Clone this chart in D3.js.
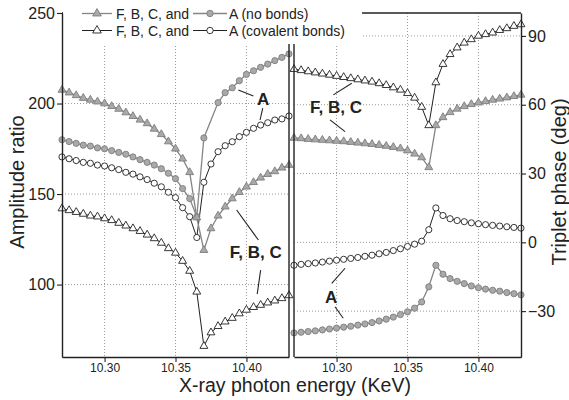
<!DOCTYPE html>
<html>
<head>
<meta charset="utf-8">
<script src="https://cdn.jsdelivr.net/npm/d3@7"></script>
<style>
body { margin: 0; background: #fff; }
svg { font-family: "Liberation Sans", Arial, sans-serif; }
</style>
</head>
<body>
<script>
// photon energies (KeV)
var energy = [10.270, 10.275, 10.280, 10.285, 10.290, 10.295, 10.300, 10.305, 10.310, 10.315,
              10.320, 10.325, 10.330, 10.335, 10.340, 10.345, 10.350, 10.355, 10.360, 10.365,
              10.370, 10.375, 10.380, 10.385, 10.390, 10.395, 10.400, 10.405, 10.410, 10.415,
              10.420, 10.425, 10.430];

// amplitude ratio (left panel)
var ampFbcNoBond = [207.5, 206, 204.5, 203, 202, 201, 200, 198.5, 197, 195,
                    193, 191, 189, 186, 183, 179, 175, 169.5, 162, 137,
                    119, 131, 138, 143, 147.5, 151, 154, 156.5, 159, 161,
                    162.5, 164.5, 166];
var ampANoBond = [180, 179, 178, 177, 176.5, 175.5, 175, 174, 173, 172,
                  170.5, 169, 167.5, 166, 164, 161.5, 158.5, 153, 147.5, 137.5,
                  181, null, 200.5, 206, 208.7, 212.6, 216.1, 218.1, 220, 221.8,
                  223.7, 225.5, 227.4];
var ampACov = [170.5, 169.5, 168.5, 167.5, 167, 166, 165.5, 164.5, 163.5, 162,
               161, 159.5, 158, 156, 154, 151, 148, 142.5, 137.5, 126,
               156.5, 166.6, 173.4, 176.7, 178.9, 181.7, 184.1, 186.3, 188.1, 189.4,
               190.9, 191.5, 193.1];
var ampFbcCov = [142, 141, 140, 139, 138, 137.5, 136.5, 135.5, 134, 132.5,
                 131, 129.5, 127.5, 125.5, 123, 120, 117.5, 113, 107.5, 96,
                 66, 73.5, 77, 79.5, 81.5, 84, 86, 87.5, 88.7, 90,
                 91.1, 92.4, 94];

// triplet phase in degrees (right panel)
var phaseFbcCov = [75.5, 75, 74.5, 74, 73.5, 73, 72.5, 72, 71.5, 71,
                   70.5, 70, 69.3, 68.5, 67.5, 66.5, 65, 63, 59, 51,
                   69.7, 77.7, 82, 84.9, 87, 88.5, 90, 90.7, 91.4, 92.5,
                   93.3, 94.3, 95];
var phaseFbcNoBond = [45.5, 45.3, 45, 44.8, 44.6, 44.4, 44.2, 44, 43.7, 43.4,
                      43.1, 42.8, 42.4, 42, 41.5, 40.9, 40, 38.6, 37, 32.7,
                      51, 54.5, 56.7, 58.2, 59.3, 60.2, 60.9, 61.5, 62.1, 62.6,
                      63.1, 63.7, 64.3];
var phaseACov = [-10, -9.6, -9.3, -9, -8.6, -8.2, -7.8, -7.4, -7, -6.6,
                 -6.1, -5.6, -5, -4.4, -3.6, -2.8, -1.8, -0.8, 0.5, 5.5,
                 15, 11.7, 10.3, 9.5, 9, 8.5, 8.1, 7.7, 7.4, 7.1,
                 6.8, 6.5, 6.2];
var phaseANoBond = [-39.5, -39.2, -38.9, -38.6, -38.2, -37.8, -37.4, -37, -36.6, -36.1,
                    -35.6, -35, -34.3, -33.5, -32.6, -31.5, -30.3, -28.7, -26, -19.4,
                    -10, -13.9, -15.8, -17, -18, -19, -19.8, -20.4, -20.9, -21.3,
                    -21.9, -22.4, -22.9];

var energyTicks = [10.30, 10.35, 10.40];
var ampTicks = [100, 150, 200, 250];
var phaseTicks = [-30, 0, 30, 60, 90];
var legendRows = [["F, B, C, and", "A (no bonds)"], ["F, B, C, and", "A (covalent bonds)"]];

var w = 569, h = 400;
var plotTop = 13, plotBottom = 357;
var ink = "#222", grayLine = "#858585", grayFill = "#a9a9a9", grayStroke = "#7d7d7d";

var xLeft = d3.scaleLinear().domain([10.27, 10.43]).range([62, 289]);
var xRight = d3.scaleLinear().domain([10.27, 10.43]).range([294, 521]);
var yAmp = d3.scaleLinear().domain([60, 250]).range([plotBottom, plotTop]);
var yPhase = d3.scaleLinear().domain([-50, 100]).range([plotBottom, plotTop]);

var svg = d3.select("body").append("svg").attr("width", w).attr("height", h);

// grid
function grid(xs, ys, yt) {
  var g = svg.append("g").attr("stroke", "#9a9a9a").attr("stroke-dasharray", "1,2").attr("stroke-width", 1);
  energyTicks.forEach(function(t) {
    g.append("line").attr("x1", xs(t)).attr("x2", xs(t)).attr("y1", plotTop).attr("y2", plotBottom);
  });
  yt.forEach(function(t) {
    g.append("line").attr("x1", xs.range()[0]).attr("x2", xs.range()[1]).attr("y1", ys(t)).attr("y2", ys(t));
  });
}
grid(xLeft, yAmp, ampTicks);
grid(xRight, yPhase, phaseTicks);

function series(xs, ys, values, shape, gray) {
  var pts = energy.map(function(e, i) { return [e, values[i]]; })
                  .filter(function(d) { return d[1] != null; });
  svg.append("path").datum(pts)
    .attr("d", d3.line().x(function(d) { return xs(d[0]); }).y(function(d) { return ys(d[1]); }))
    .attr("fill", "none")
    .attr("stroke", gray ? grayLine : ink)
    .attr("stroke-width", gray ? 1.3 : 1);
  var sym = d3.symbol().type(shape == "tri" ? d3.symbolTriangle : d3.symbolCircle).size(shape == "tri" ? 27 : 30);
  svg.append("g").selectAll("path").data(pts).enter().append("path")
    .attr("transform", function(d) { return "translate(" + xs(d[0]) + "," + ys(d[1]) + ")"; })
    .attr("d", sym)
    .attr("fill", gray ? grayFill : "#fff")
    .attr("stroke", gray ? grayStroke : ink)
    .attr("stroke-width", 0.9);
}

series(xLeft, yAmp, ampFbcCov, "tri", false);
series(xLeft, yAmp, ampACov, "circ", false);
series(xLeft, yAmp, ampANoBond, "circ", true);
series(xLeft, yAmp, ampFbcNoBond, "tri", true);

series(xRight, yPhase, phaseANoBond, "circ", true);
series(xRight, yPhase, phaseACov, "circ", false);
series(xRight, yPhase, phaseFbcNoBond, "tri", true);
series(xRight, yPhase, phaseFbcCov, "tri", false);

// frames
function frameLine(x1, y1, x2, y2) {
  svg.append("line").attr("x1", x1).attr("y1", y1).attr("x2", x2).attr("y2", y2)
    .attr("stroke", ink).attr("stroke-width", 1.4);
}
frameLine(62, plotTop, 289, plotTop);
frameLine(289, plotTop, 289, plotBottom);
frameLine(294, plotTop, 294, plotBottom);
frameLine(294, plotTop, 521, plotTop);

// legend
svg.append("rect").attr("x", 63).attr("y", 0).attr("width", 299).attr("height", 44).attr("fill", "#fff");
var legendY = [13.5, 30.5];
legendRows.forEach(function(row, r) {
  var g = svg.append("g").attr("transform", "translate(0," + legendY[r] + ")");
  var gray = r == 0;
  [[82, 112, "tri", 116], [193, 227, "circ", 229]].forEach(function(s, k) {
    g.append("line").attr("x1", s[0]).attr("x2", s[1]).attr("y1", 0).attr("y2", 0)
      .attr("stroke", gray ? grayLine : ink).attr("stroke-width", gray ? 1.3 : 1);
    g.append("path").attr("transform", "translate(" + (s[0] + s[1]) / 2 + ",0)")
      .attr("d", d3.symbol().type(s[2] == "tri" ? d3.symbolTriangle : d3.symbolCircle).size(32))
      .attr("fill", gray ? grayFill : "#fff").attr("stroke", gray ? grayStroke : ink).attr("stroke-width", 0.9);
    g.append("text").attr("x", s[3]).attr("y", 5).attr("font-size", 14).attr("fill", ink).text(row[k]);
  });
});

// axes
function styleAxis(g, fs) {
  g.selectAll(".domain").attr("stroke", ink).attr("stroke-width", 1.4);
  g.selectAll(".tick line").attr("stroke", ink).attr("stroke-width", 1.1);
  g.selectAll(".tick text").attr("fill", ink).attr("font-size", fs).attr("font-family", null);
}
var ampMinor = d3.range(60, 251, 10);
var phaseMinor = d3.range(-50, 101, 10);
var energyMinor = d3.range(0, 17).map(function(i) { return 10.27 + i * 0.01; });

var ga = svg.append("g").attr("transform", "translate(62,0)");
ga.call(d3.axisLeft(yAmp).tickValues(ampMinor).tickFormat("").tickSize(3).tickSizeOuter(0));
ga.call(d3.axisLeft(yAmp).tickValues(ampTicks).tickSize(5).tickPadding(2).tickSizeOuter(0));
styleAxis(ga, 16);

var gp = svg.append("g").attr("transform", "translate(521,0)");
gp.call(d3.axisRight(yPhase).tickValues(phaseMinor).tickFormat("").tickSize(3).tickSizeOuter(0));
gp.call(d3.axisRight(yPhase).tickValues(phaseTicks).tickSize(5).tickPadding(2).tickSizeOuter(0));
styleAxis(gp, 16);

[xLeft, xRight].forEach(function(xs) {
  var gx = svg.append("g").attr("transform", "translate(0," + plotBottom + ")");
  gx.call(d3.axisBottom(xs).tickValues(energyMinor).tickFormat("").tickSize(3).tickSizeOuter(0));
  gx.call(d3.axisBottom(xs).tickValues(energyTicks).tickFormat(d3.format(".2f")).tickSize(5).tickPadding(1).tickSizeOuter(0));
  styleAxis(gx, 12);
});

// titles
svg.append("text").attr("transform", "translate(24,182) rotate(-90)").attr("text-anchor", "middle")
  .attr("font-size", 20).attr("fill", ink).text("Amplitude ratio");
svg.append("text").attr("transform", "translate(566,182) rotate(-90)").attr("text-anchor", "middle")
  .attr("font-size", 20).attr("fill", ink).text("Triplet phase (deg)");
svg.append("text").attr("x", 295).attr("y", 392).attr("text-anchor", "middle")
  .attr("font-size", 19.5).attr("fill", ink).text("X-ray photon energy (KeV)");

// annotations, placed in data units
var notes = [
  {xs: xLeft, ys: yAmp, text: "A", at: [10.4117, 202.5],
   lines: [[10.3943, 207.5, 10.4049, 204.2], [10.4115, 197.4, 10.4096, 190.9]]},
  {xs: xLeft, ys: yAmp, text: "F, B, C", at: [10.4066, 118],
   lines: [[10.3931, 141.2, 10.4084, 124.6], [10.4100, 108, 10.4076, 94.8]]},
  {xs: xRight, ys: yPhase, text: "F, B, C", at: [10.2996, 59],
   lines: [[10.2977, 64.3, 10.3107, 69.4], [10.2954, 53.4, 10.3060, 48.3]]},
  {xs: xRight, ys: yPhase, text: "A", at: [10.2961, -23.8],
   lines: [[10.2966, -17.9, 10.3060, -11.3], [10.2989, -28.1, 10.3047, -33.1]]}
];
notes.forEach(function(n) {
  n.lines.forEach(function(l) {
    svg.append("line").attr("x1", n.xs(l[0])).attr("y1", n.ys(l[1])).attr("x2", n.xs(l[2])).attr("y2", n.ys(l[3]))
      .attr("stroke", ink).attr("stroke-width", 1.1);
  });
  svg.append("text").attr("x", n.xs(n.at[0])).attr("y", n.ys(n.at[1]) + 6)
    .attr("text-anchor", "middle").attr("font-size", 17).attr("font-weight", "bold").attr("fill", ink).text(n.text);
});
</script>
</body>
</html>
